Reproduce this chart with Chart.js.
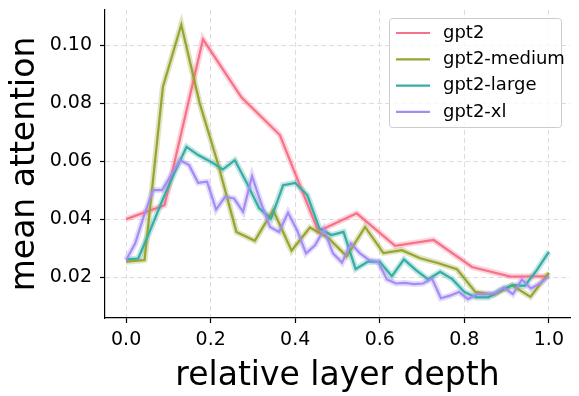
<!DOCTYPE html>
<html>
<head>
<meta charset="utf-8">
<script src="https://cdn.jsdelivr.net/npm/chart.js@4.4.1/dist/chart.umd.min.js"></script>
<style>
  html, body { margin: 0; padding: 0; background: #fff; }
  #wrap { width: 579px; height: 396px; position: relative; }
</style>
</head>
<body>
<div id="wrap"><canvas id="chart" width="579" height="396"></canvas></div>
<script>
"use strict";

// 每個模型一條線：x = 層索引 / (層數 - 1)
const MODELS = ["gpt2", "gpt2-medium", "gpt2-large", "gpt2-xl"];
const COLORS = ["#f77189", "#97a431", "#36ada4", "#a48cf4"];

const GPT2 = [0.0400, 0.0448, 0.1020, 0.0820, 0.0690, 0.0358, 0.0420, 0.0308,
  0.0328, 0.0235, 0.0202, 0.0203];

const GPT2_MEDIUM = [0.0253, 0.0259, 0.0856, 0.1070, 0.0800, 0.0590, 0.0356, 0.0325,
  0.0431, 0.0291, 0.0371, 0.0335, 0.0272, 0.0373, 0.0283, 0.0293,
  0.0265, 0.0248, 0.0227, 0.0149, 0.0139, 0.0172, 0.0132, 0.0215];

const GPT2_LARGE = [0.0261, 0.0264, 0.0362, 0.0465, 0.0560, 0.0649, 0.0620, 0.0598,
  0.0571, 0.0603, 0.0524, 0.0438, 0.0402, 0.0517, 0.0525, 0.0483,
  0.0368, 0.0345, 0.0356, 0.0228, 0.0253, 0.0253, 0.0203, 0.0261,
  0.0224, 0.0192, 0.0218, 0.0193, 0.0149, 0.0130, 0.0130, 0.0155,
  0.0172, 0.0170, 0.0224, 0.0287];

const GPT2_XL = [0.0259, 0.0316, 0.0414, 0.0500, 0.0500, 0.0552, 0.0603, 0.0586,
  0.0525, 0.0529, 0.0433, 0.0477, 0.0471, 0.0425, 0.0548, 0.0455,
  0.0373, 0.0356, 0.0422, 0.0362, 0.0282, 0.0310, 0.0364, 0.0282,
  0.0250, 0.0316, 0.0282, 0.0259, 0.0253, 0.0192, 0.0178, 0.0180,
  0.0176, 0.0178, 0.0195, 0.0127, 0.0136, 0.0149, 0.0124, 0.0141,
  0.0141, 0.0144, 0.0164, 0.0141, 0.0192, 0.0161, 0.0178, 0.0203];

const SERIES = [GPT2, GPT2_MEDIUM, GPT2_LARGE, GPT2_XL];

const X_TICKS = [0.0, 0.2, 0.4, 0.6, 0.8, 1.0];
const Y_TICKS = [0.02, 0.04, 0.06, 0.08, 0.10];
const X_RANGE = [-0.05, 1.05];
const Y_RANGE = [0.0059, 0.1121];

const FONT = "DejaVu Sans";

function toPoints(values) {
  const n = values.length;
  return values.map((v, i) => ({ x: i / (n - 1), y: v }));
}

function hexAlpha(hex, a) {
  const r = parseInt(hex.slice(1, 3), 16);
  const g = parseInt(hex.slice(3, 5), 16);
  const b = parseInt(hex.slice(5, 7), 16);
  return `rgba(${r},${g},${b},${a})`;
}

const datasets = [];
SERIES.forEach((vals, i) => {
  // 半透明粗線當作信賴區間帶
  datasets.push({
    label: MODELS[i] + "_band",
    data: toPoints(vals),
    borderColor: hexAlpha(COLORS[i], 0.3),
    borderWidth: 6,
    pointRadius: 0,
    tension: 0,
    order: 20 - i,
  });
  datasets.push({
    label: MODELS[i],
    data: toPoints(vals),
    borderColor: COLORS[i],
    borderWidth: 2.2,
    pointRadius: 0,
    tension: 0,
    order: 10 - i,
  });
});

// 圖內右上角圖例
const legendBox = {
  id: "legendBox",
  afterDraw(chart) {
    const ctx = chart.ctx;
    const x = 389.5, y = 18.5, w = 172, h = 109;
    ctx.save();
    ctx.beginPath();
    ctx.roundRect(x, y, w, h, 3);
    ctx.fillStyle = "rgba(255,255,255,0.8)";
    ctx.fill();
    ctx.strokeStyle = "#cccccc";
    ctx.lineWidth = 1;
    ctx.stroke();
    ctx.font = `18px "${FONT}"`;
    ctx.textBaseline = "middle";
    ctx.fillStyle = "#000";
    MODELS.forEach((name, i) => {
      const ly = 33 + i * 26.3;
      ctx.beginPath();
      ctx.moveTo(396, ly);
      ctx.lineTo(430, ly);
      ctx.strokeStyle = COLORS[i];
      ctx.lineWidth = 2.2;
      ctx.stroke();
      ctx.fillText(name, 443, ly);
    });
    ctx.restore();
  },
};

// 取消刻度字造成的額外內距，讓繪圖區貼齊版面
function noPad(s) {
  s.paddingTop = 0; s.paddingBottom = 0;
  s.paddingLeft = 0; s.paddingRight = 0;
}

new Chart(document.getElementById("chart"), {
  type: "line",
  data: { datasets },
  plugins: [legendBox],
  options: {
    responsive: false,
    animation: false,
    layout: { padding: { left: 0, right: 9, top: 10, bottom: 0 } },
    plugins: { legend: { display: false }, tooltip: { enabled: false } },
    scales: {
      x: {
        type: "linear",
        min: X_RANGE[0],
        max: X_RANGE[1],
        afterBuildTicks: s => { s.ticks = X_TICKS.map(v => ({ value: v })); },
        afterFit: s => { s.height = 78; noPad(s); },
        grid: {
          color: "#dddddd", lineWidth: 1,
          tickColor: "#000", tickLength: 5, tickWidth: 1.2, tickBorderDash: [],
        },
        border: { display: true, color: "#000", width: 1.2, dash: [5, 3] },
        ticks: {
          color: "#000", padding: 6,
          font: { family: FONT, size: 19 },
          callback: v => v.toFixed(1),
          maxRotation: 0,
        },
        title: {
          display: true, text: "relative layer depth", color: "#000",
          font: { family: FONT, size: 33 }, padding: { top: 0, bottom: 0 },
        },
      },
      y: {
        type: "linear",
        min: Y_RANGE[0],
        max: Y_RANGE[1],
        afterBuildTicks: s => { s.ticks = Y_TICKS.map(v => ({ value: v })); },
        afterFit: s => { s.width = 105; noPad(s); },
        grid: {
          color: "#dddddd", lineWidth: 1,
          tickColor: "#000", tickLength: 5, tickWidth: 1.2, tickBorderDash: [],
        },
        border: { display: true, color: "#000", width: 1.2, dash: [5, 3] },
        ticks: {
          color: "#000", padding: 8,
          font: { family: FONT, size: 19 },
          callback: v => v.toFixed(2),
        },
        title: {
          display: true, text: "mean attention", color: "#000",
          font: { family: FONT, size: 33 }, padding: { top: 6, bottom: 0 },
        },
      },
    },
  },
});
</script>
</body>
</html>
